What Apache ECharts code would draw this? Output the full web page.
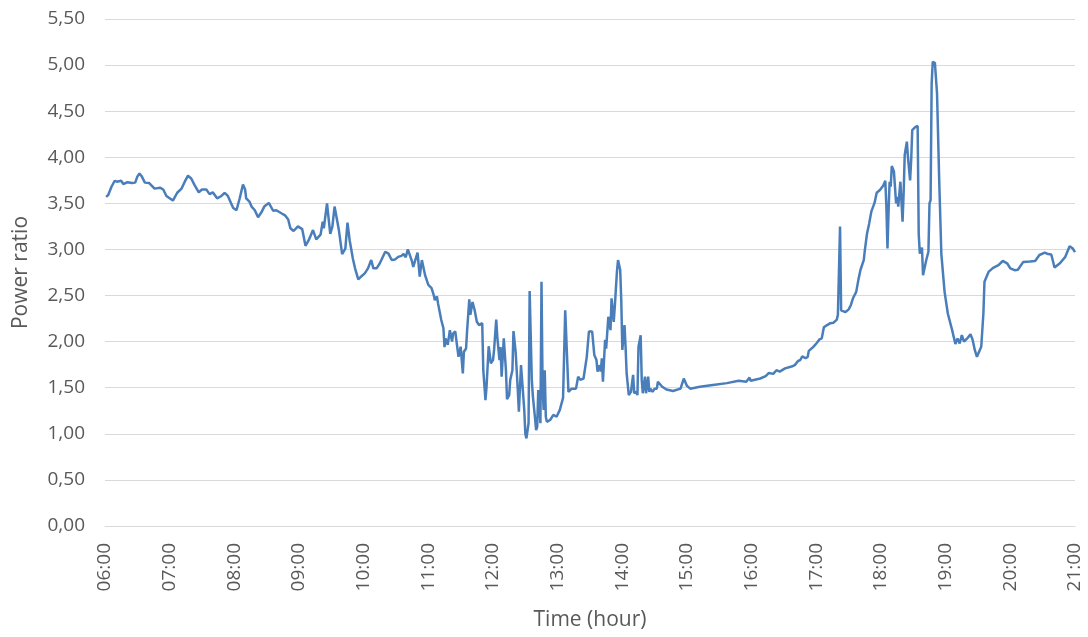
<!DOCTYPE html>
<html>
<head>
<meta charset="utf-8">
<script src="https://cdn.jsdelivr.net/npm/echarts@6/dist/echarts.min.js"></script>
<style>
  html, body { margin: 0; padding: 0; background: #fff; }
  #container { width: 1088px; height: 637px; }
</style>
</head>
<body>
<div id="container"></div>
<script>
// time of day (HH:MM) and measured power ratio
var times = [
  '06:01','06:03','06:06','06:09','06:11','06:12','06:15','06:17','06:21','06:25','06:28','06:30','06:32','06:34','06:37','06:41','06:46','06:51','06:54','06:57',
  '07:00','07:03','07:07','07:11','07:14','07:17','07:20','07:23','07:27','07:30','07:34','07:37','07:40','07:44','07:48','07:51','07:54','07:57','07:59',
  '08:02','08:05','08:08','08:10','08:11','08:14','08:16','08:19','08:22','08:25','08:28','08:32','08:36','08:39','08:44','08:47','08:50','08:52','08:55','08:59',
  '09:03','09:06','09:09','09:13','09:16','09:20','09:22','09:23','09:26','09:29','09:31','09:33','09:37','09:40','09:43','09:45','09:47','09:50','09:52','09:55','09:58',
  '10:01','10:04','10:07','10:09','10:12','10:15','10:20','10:23','10:26','10:29','10:32','10:35','10:37','10:39','10:41','10:45','10:46','10:50','10:52','10:54','10:57',
  '11:00','11:03','11:05','11:06','11:08','11:09','11:12','11:14','11:15','11:16','11:18','11:20','11:22','11:23','11:25','11:27','11:28','11:30','11:32','11:33','11:35','11:36','11:38','11:39','11:41','11:43','11:45','11:47','11:50','11:51','11:53','11:54','11:55','11:56','11:58',
  '12:00','12:01','12:03','12:04','12:06','12:07','12:08','12:10','12:12','12:13','12:15','12:16','12:18','12:19','12:21','12:22','12:23','12:24','12:26','12:27','12:29','12:30','12:31','12:33','12:34','12:36','12:37','12:39','12:40','12:41','12:42','12:44','12:45','12:46','12:47','12:48','12:49','12:50','12:53','12:56','12:59',
  '13:02','13:05','13:07','13:08','13:10','13:13','13:17','13:19','13:21','13:24','13:27','13:29','13:32','13:34','13:36','13:37','13:39','13:40','13:41','13:42','13:44','13:45','13:47','13:49','13:50','13:52','13:53','13:55','13:56','13:58','13:59',
  '14:00','14:02','14:03','14:04','14:06','14:08','14:10','14:11','14:13','14:14','14:15','14:17','14:18','14:19','14:21','14:22','14:24','14:25','14:26','14:28','14:30','14:32','14:33','14:37','14:41','14:47','14:54','14:57',
  '15:00','15:03','15:12','15:24','15:37','15:48','15:55','15:58','15:59',
  '16:08','16:13','16:16','16:20','16:23','16:26','16:31','16:37','16:40','16:43','16:45','16:47','16:50','16:52','16:53','16:57',
  '17:00','17:03','17:05','17:07','17:10','17:13','17:16','17:19','17:20','17:22','17:23','17:27','17:30','17:32','17:34','17:37','17:39','17:41','17:44','17:45','17:47','17:49','17:51','17:54','17:56','17:59',
  '18:02','18:04','18:05','18:06','18:07','18:08','18:09','18:10','18:12','18:14','18:15','18:16','18:18','18:20','18:21','18:22','18:24','18:25','18:27','18:28','18:29','18:32','18:34','18:35','18:36','18:38','18:39','18:42','18:44','18:45','18:46','18:47','18:48','18:50','18:52','18:54','18:56','18:59',
  '19:02','19:06','19:09','19:11','19:13','19:15','19:17','19:20','19:23','19:25','19:27','19:29','19:31','19:33','19:35','19:36','19:40','19:44','19:49','19:53','19:57',
  '20:00','20:04','20:07','20:12','20:18','20:23','20:27','20:32','20:35','20:38','20:41','20:46','20:51','20:55','20:58','21:00'
];
var ratios = [
  3.57,3.59,3.68,3.745,3.735,3.75,3.745,3.71,3.73,3.72,3.725,3.79,3.825,3.795,3.725,3.72,3.66,3.67,3.65,3.58,
  3.555,3.53,3.615,3.66,3.735,3.80,3.77,3.70,3.62,3.65,3.65,3.60,3.62,3.555,3.58,3.615,3.58,3.50,3.45,
  3.425,3.555,3.705,3.65,3.555,3.52,3.465,3.425,3.35,3.40,3.47,3.505,3.42,3.425,3.39,3.37,3.325,3.23,3.20,3.25,
  3.22,3.04,3.10,3.21,3.11,3.16,3.30,3.23,3.50,3.17,3.25,3.465,3.21,2.95,3.01,3.29,3.10,2.90,2.795,2.675,2.71,
  2.74,2.795,2.885,2.795,2.795,2.85,2.975,2.955,2.885,2.89,2.92,2.93,2.95,2.915,3.00,2.865,2.81,2.965,2.705,2.885,2.72,
  2.615,2.58,2.505,2.45,2.49,2.415,2.235,2.145,1.94,2.035,1.965,2.125,2.00,2.09,2.11,1.925,1.835,1.945,1.655,1.89,1.925,2.125,2.46,2.29,2.43,2.34,2.215,2.18,2.20,1.69,1.365,1.51,1.53,1.95,1.765,
  1.80,1.91,2.24,2.05,1.80,1.94,1.62,2.035,1.69,1.375,1.42,1.585,1.69,2.115,1.89,1.91,1.475,1.24,1.745,1.765,1.26,1.00,0.95,1.115,2.55,1.585,1.405,1.17,1.04,1.075,1.475,1.115,2.65,1.51,1.26,1.69,1.185,1.13,1.15,1.205,1.185,
  1.26,1.39,2.34,2.34,1.455,1.49,1.49,1.62,1.585,1.60,1.835,2.11,2.11,1.855,1.80,1.675,1.745,1.675,1.82,1.565,2.02,1.925,2.27,2.125,2.47,2.215,2.38,2.76,2.885,2.78,2.45,
  1.91,2.18,1.945,1.655,1.42,1.455,1.64,1.44,1.455,1.42,1.945,2.07,1.585,1.44,1.62,1.44,1.62,1.455,1.49,1.455,1.49,1.49,1.565,1.51,1.48,1.465,1.49,1.60,
  1.52,1.49,1.51,1.53,1.55,1.575,1.565,1.61,1.575,
  1.60,1.625,1.66,1.65,1.69,1.675,1.71,1.73,1.745,1.79,1.80,1.84,1.82,1.835,1.90,1.94,
  1.98,2.025,2.035,2.155,2.18,2.20,2.205,2.24,2.29,3.25,2.34,2.32,2.35,2.395,2.47,2.54,2.67,2.78,2.885,2.99,3.17,3.28,3.41,3.505,3.615,3.645,
  3.69,3.745,3.465,3.01,3.41,3.735,3.68,3.905,3.845,3.50,3.57,3.465,3.735,3.30,3.61,4.025,4.17,4.005,3.75,3.97,4.295,4.33,4.34,3.17,2.955,3.02,2.72,2.885,2.975,3.50,3.535,4.80,5.035,5.025,4.69,3.75,2.95,2.54,
  2.305,2.125,1.975,2.035,1.98,2.07,2.00,2.035,2.08,2.02,1.91,1.835,1.89,1.945,2.305,2.65,2.76,2.80,2.83,2.875,2.85,
  2.795,2.775,2.78,2.865,2.87,2.875,2.94,2.965,2.95,2.945,2.805,2.85,2.92,3.035,3.01,2.97
];
var yTicks = { min: 0, max: 5.5, step: 0.5 };
var xTicks = { min: 6, max: 21, step: 1 };

function toMinutes(t) {
    var p = t.split(':');
    return parseInt(p[0], 10) * 60 + parseInt(p[1], 10);
}
function pad(n) { return (n < 10 ? '0' : '') + n; }

var seriesData = times.map(function (t, i) { return [toMinutes(t), ratios[i]]; });

var labelFont = 'Open Sans';
var textColor = '#595959';

var myChart = echarts.init(document.getElementById('container'));
var option = {
    animation: false,
    backgroundColor: '#ffffff',
    grid: { left: 105, right: 13, top: 19, height: 507, containLabel: false },
    xAxis: {
        type: 'value',
        min: xTicks.min * 60,
        max: xTicks.max * 60,
        interval: xTicks.step * 60,
        name: 'Time (hour)',
        nameLocation: 'middle',
        nameGap: 84,
        nameTextStyle: { color: textColor, fontSize: 21, fontFamily: labelFont },
        axisLine: { show: true, lineStyle: { color: '#d9d9d9', width: 1 } },
        axisTick: { show: false },
        splitLine: { show: false },
        axisLabel: {
            rotate: 90,
            margin: 17,
            color: textColor,
            fontSize: 19,
            fontFamily: labelFont,
            formatter: function (v) { return pad(Math.floor(v / 60)) + ':00'; }
        }
    },
    yAxis: {
        type: 'value',
        min: yTicks.min,
        max: yTicks.max,
        interval: yTicks.step,
        name: 'Power ratio',
        nameLocation: 'middle',
        nameGap: 73,
        nameTextStyle: { color: textColor, fontSize: 21, fontFamily: labelFont },
        axisLine: { show: false },
        axisTick: { show: false },
        splitLine: { show: true, lineStyle: { color: '#d9d9d9', width: 1 } },
        axisLabel: {
            margin: 20,
            color: textColor,
            fontSize: 19,
            fontFamily: labelFont,
            formatter: function (v) { return v.toFixed(2).replace('.', ','); }
        }
    },
    series: [{
        type: 'line',
        data: seriesData,
        showSymbol: false,
        symbol: 'none',
        lineStyle: { color: '#4a7ebb', width: 2.5 },
        itemStyle: { color: '#4a7ebb' }
    }]
};
myChart.setOption(option, true);
</script>
</body>
</html>
